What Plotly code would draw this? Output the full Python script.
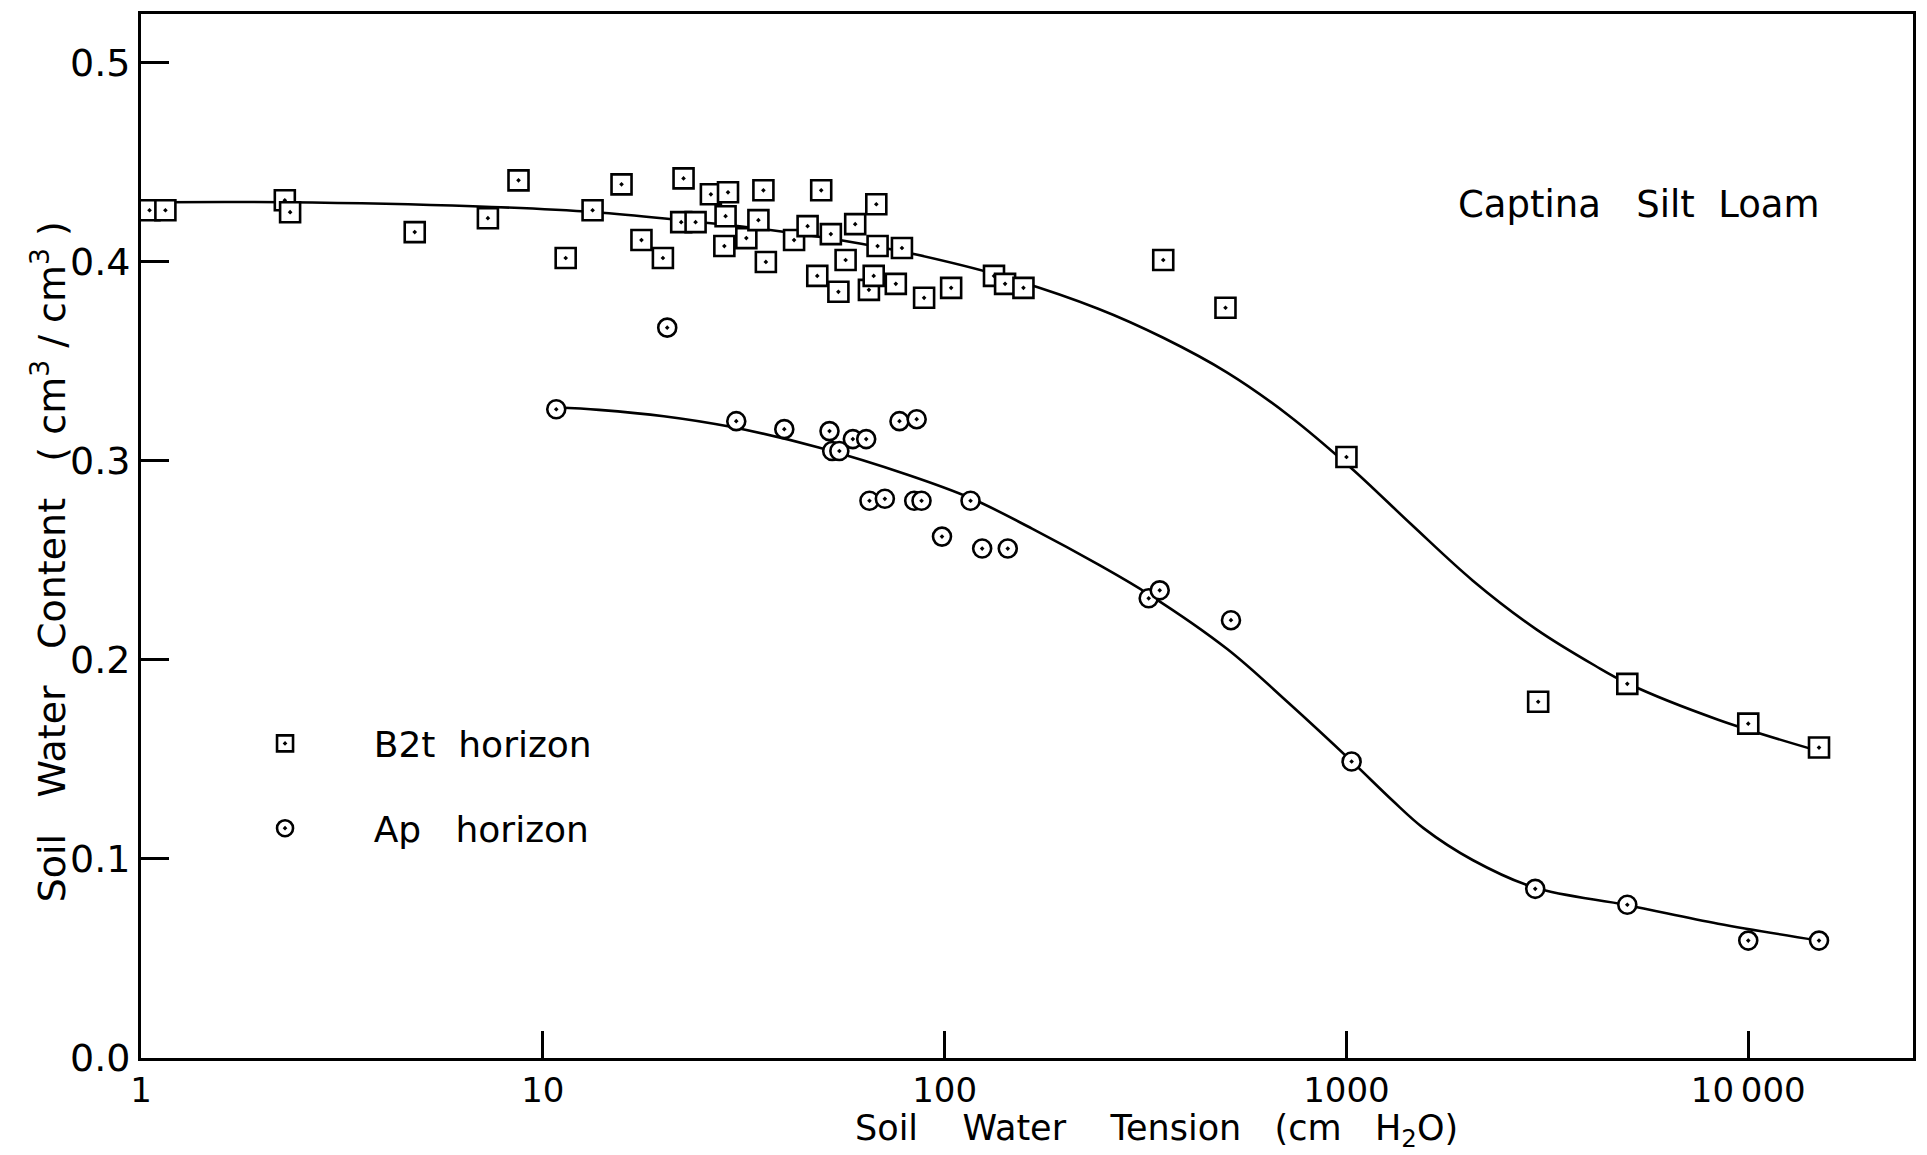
import plotly.graph_objects as go

# B2t horizon measurements: tension (cm H2O) and volumetric water content
b2t_tension = [1.05, 1.15, 2.28, 2.35, 4.8, 7.3, 8.7, 11.4, 13.3, 15.7, 17.6, 19.9,
               22.4, 22.1, 24.0, 26.2, 28.9, 28.5, 28.3, 32.1, 34.4, 35.4, 35.9,
               42.2, 45.6, 49.3, 48.2, 52.1, 54.4, 56.7, 59.9, 64.8, 66.6, 68.1,
               67.6, 75.6, 78.3, 88.9, 103.8, 132.7, 141.4, 157.1, 350, 500,
               1000, 3000, 5000, 10000, 15000]
b2t_content = [0.426, 0.426, 0.431, 0.425, 0.415, 0.422, 0.441, 0.402, 0.426, 0.439,
               0.411, 0.402, 0.442, 0.420, 0.420, 0.434, 0.435, 0.423, 0.408, 0.412,
               0.421, 0.436, 0.400, 0.411, 0.418, 0.436, 0.393, 0.414, 0.385, 0.401,
               0.419, 0.386, 0.393, 0.408, 0.429, 0.389, 0.407, 0.382, 0.387, 0.393,
               0.389, 0.387, 0.401, 0.377, 0.302, 0.179, 0.188, 0.168, 0.156]

# Ap horizon measurements
ap_tension = [10.8, 20.4, 30.3, 39.9, 51.7, 52.5, 54.7, 59.1, 63.8, 65.0, 71.0,
              77.2, 85.2, 84.0, 87.6, 98.5, 116, 124, 143.6, 322, 343, 516,
              1030, 2950, 5000, 10000, 15000]
ap_content = [0.326, 0.367, 0.320, 0.316, 0.315, 0.305, 0.305, 0.311, 0.311, 0.280,
              0.281, 0.320, 0.321, 0.280, 0.280, 0.262, 0.280, 0.256, 0.256, 0.231,
              0.235, 0.220, 0.149, 0.085, 0.077, 0.059, 0.059]

# Fitted retention curves (points along each drawn curve)
b2t_fit_tension = [1, 2.3, 6.7, 13.5, 22, 36, 62, 85, 136, 241, 350, 505, 717,
                   1027, 1449, 2060, 2969, 4160, 5000, 8413, 15000]
b2t_fit_content = [0.430, 0.430, 0.428, 0.425, 0.421, 0.4163, 0.4092, 0.4037, 0.3934,
                   0.3765, 0.3619, 0.3444, 0.323, 0.2965, 0.2682, 0.240, 0.2154,
                   0.1971, 0.1883, 0.170, 0.1542]
ap_fit_tension = [10.8, 13.8, 20, 29.1, 48.6, 81.2, 116, 165, 241, 322, 505, 717,
                  1034, 1300, 1555, 2060, 2950, 5000, 8413, 15000]
ap_fit_content = [0.327, 0.3257, 0.3225, 0.3173, 0.3068, 0.293, 0.2814, 0.266,
                  0.248, 0.233, 0.2055, 0.1785, 0.1488, 0.1295, 0.1155, 0.0995,
                  0.0855, 0.0768, 0.0675, 0.059]

x_tickvals = [1, 10, 100, 1000, 10000]
x_ticktext = ["1", "10", "100", "1000", "10\u2009000"]
y_tickvals = [0.0, 0.1, 0.2, 0.3, 0.4, 0.5]
y_ticktext = ["0.0", "0.1", "0.2", "0.3", "0.4", "0.5"]

FONT = "DejaVu Sans"
NB = "\u00a0"

fig = go.Figure()

for xs, ys in [(b2t_fit_tension, b2t_fit_content), (ap_fit_tension, ap_fit_content)]:
    fig.add_trace(go.Scatter(
        x=xs, y=ys, mode="lines",
        line=dict(color="black", width=2.6, shape="spline", smoothing=1.0),
        showlegend=False, hoverinfo="skip"))

fig.add_trace(go.Scatter(
    x=b2t_tension, y=b2t_content, mode="markers",
    name=NB * 6 + "B2t" + NB * 2 + "horizon", legendgroup="b2t",
    marker=dict(symbol="square-dot", size=20, color="white",
                line=dict(color="black", width=2.6)),
    cliponaxis=False))
fig.add_trace(go.Scatter(
    x=ap_tension, y=ap_content, mode="markers",
    name=NB * 6 + "Ap" + NB * 3 + "horizon", legendgroup="ap",
    marker=dict(symbol="circle-dot", size=18, color="white",
                line=dict(color="black", width=2.6)),
    cliponaxis=False))

# Chart label and axis titles
fig.add_annotation(
    text="Captina" + NB * 3 + "Silt" + NB * 2 + "Loam",
    xref="paper", yref="paper", x=0.8456, y=0.8174,
    xanchor="center", yanchor="middle",
    showarrow=False, font=dict(family=FONT, size=37, color="black"))
fig.add_annotation(
    text="Soil" + NB * 4 + "Water" + NB * 4 + "Tension" + NB * 3 + "(cm" + NB * 3 + "H<sub>2</sub>O)",
    xref="paper", yref="paper", x=0.573, y=-0.069,
    xanchor="center", yanchor="middle",
    showarrow=False, font=dict(family=FONT, size=35, color="black"))
fig.add_annotation(
    text="Soil" + NB * 3 + "Water" + NB * 3 + "Content" + NB * 3
         + "(" + NB + "cm<sup>3</sup>" + NB + "/" + NB + "cm<sup>3</sup>" + NB + ")",
    xref="paper", yref="paper", x=-0.0518, y=0.475,
    xanchor="center", yanchor="middle", textangle=-90,
    showarrow=False, font=dict(family=FONT, size=38, color="black"))

fig.update_layout(
    width=1927, height=1155,
    margin=dict(l=141, r=11, t=12, b=97),
    paper_bgcolor="white", plot_bgcolor="white",
    font=dict(family=FONT, size=36, color="black"),
    legend=dict(x=0.07, y=0.33, xanchor="left", yanchor="top",
                bgcolor="rgba(0,0,0,0)", font=dict(family=FONT, size=36),
                tracegroupgap=35, itemsizing="trace"),
    xaxis=dict(
        type="log", range=[0, 4.41],
        tickvals=x_tickvals, ticktext=x_ticktext,
        ticks="inside", ticklen=27, tickwidth=2.5, tickcolor="black",
        showgrid=False, zeroline=False,
        showline=True, mirror=True, linewidth=3, linecolor="black",
        tickfont=dict(family=FONT, size=34)),
    yaxis=dict(
        range=[0, 0.5246],
        tickvals=y_tickvals, ticktext=y_ticktext,
        ticks="inside", ticklen=28, tickwidth=2.5, tickcolor="black",
        showgrid=False, zeroline=False,
        showline=True, mirror=True, linewidth=3, linecolor="black",
        tickfont=dict(family=FONT, size=38)),
)

fig.write_html("out.html")
